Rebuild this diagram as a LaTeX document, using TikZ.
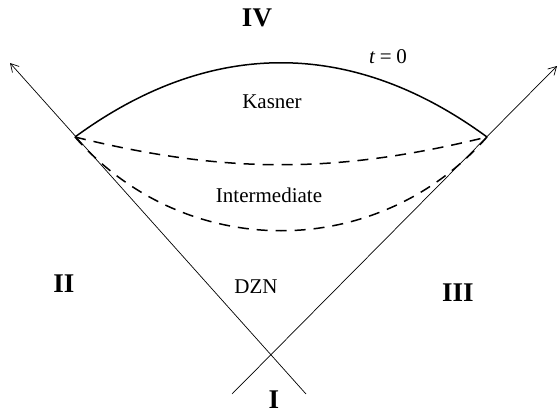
\documentclass[tikz,border=0pt]{standalone}
\usepackage{fontspec}
\setmainfont{Liberation Serif}
\usetikzlibrary{arrows.meta}
\begin{document}
\begin{tikzpicture}[x=1pt,y=-1pt,
  axis/.style={line width=0.7pt,-{Straight Barb[length=8pt,width=9pt,line width=0.7pt]}},
  bound/.style={line width=1.5pt},
  dashbound/.style={line width=1.5pt,dash pattern=on 11pt off 8pt},
  region/.style={font=\fontsize{27}{27}\selectfont\bfseries,inner sep=0pt},
  lbl/.style={font=\fontsize{21}{21}\selectfont,inner sep=0pt}]
\useasboundingbox (0,0) rectangle (558,415);
% light-cone lines
\coordinate (lb) at (306,394);
\coordinate (lt) at (10,63);
\coordinate (rb) at (232,394);
\coordinate (rt) at (557,66);
\coordinate (L) at (75,137);
\coordinate (R) at (487,137);
\draw[axis] (lb) -- (lt);
\draw[axis] (rb) -- (rt);
% t=0 surface
\draw[bound] (L) .. controls (210,38) and (352,38) .. (R);
% dashed boundaries
\draw[dashbound] (L) .. controls (225,174) and (337,174) .. (R);
\draw[dashbound] (L) .. controls (185,262) and (377,262) .. (R);
% labels
\node[region] (iv) at (257,18) {IV};
\node[region] (ii) at (64,284) {II};
\node[region] (iii) at (458,293) {III};
\node[region] (i) at (274,400) {I};
\node[lbl] (t0) at (388,57) {\textit{t}\hspace{0.22em}=\hspace{0.22em}0};
\node[lbl] (kas) at (272,102) {Kasner};
\node[lbl] (int) at (269,195) {Intermediate};
\node[lbl] (dzn) at (256,287) {DZN};
\end{tikzpicture}
\end{document}
